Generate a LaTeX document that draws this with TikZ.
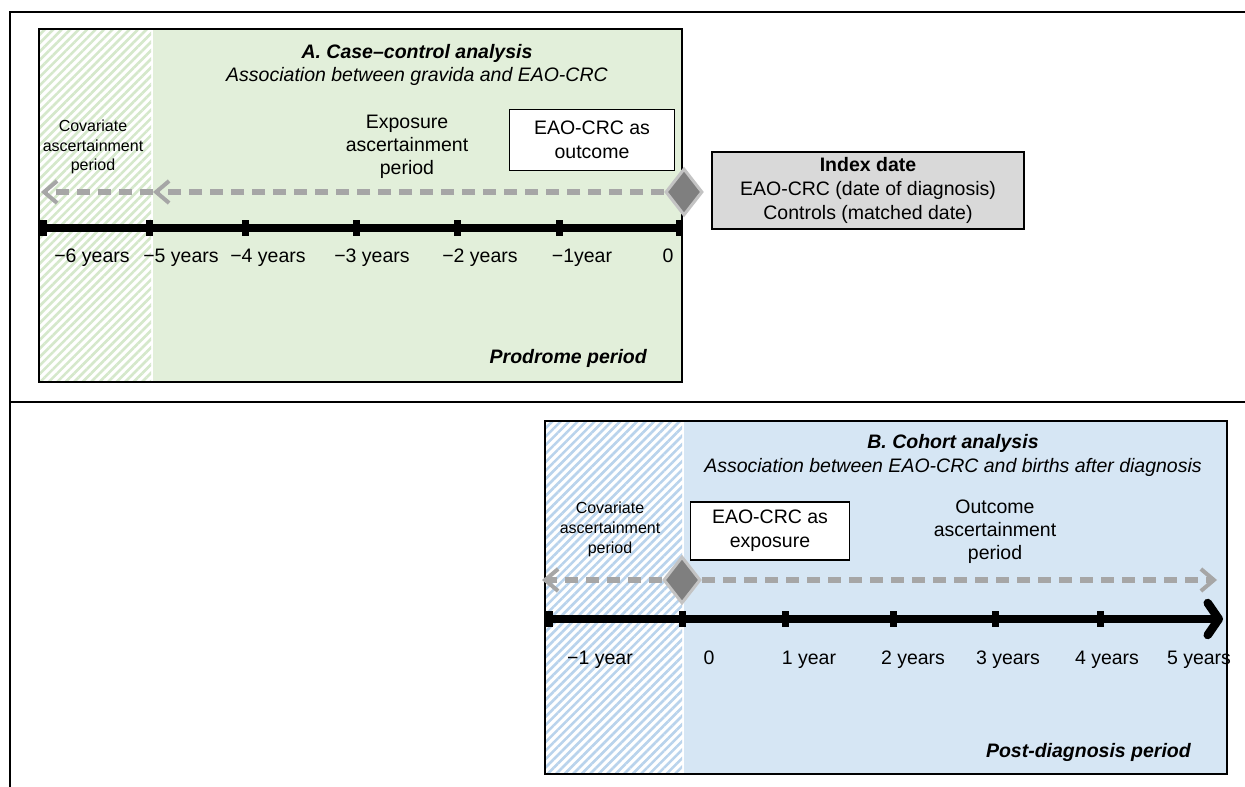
\documentclass[tikz,border=0pt]{standalone}
\usepackage{fontspec}
\setmainfont{Liberation Sans}
\usetikzlibrary{shapes.geometric,arrows.meta,patterns.meta}
\definecolor{agreen}{HTML}{E2EFDA}
\definecolor{ghatch}{HTML}{D5E8CB}
\definecolor{bblue}{HTML}{D6E6F4}
\definecolor{bhatch}{HTML}{B9D3EC}
\definecolor{dashgray}{HTML}{A6A6A6}
\definecolor{dfill}{HTML}{7F7F7F}
\definecolor{dborder}{HTML}{C3C3C3}
\definecolor{igray}{HTML}{D9D9D9}
\tikzset{
  basetext/.style={font=\fontsize{19.5}{24}\selectfont, inner sep=0pt, align=center},
  smalltext/.style={font=\fontsize{16}{19.5}\selectfont, inner sep=0pt, align=center},
  bititle/.style={font=\fontsize{19.5}{24}\selectfont\bfseries\itshape, inner sep=0pt},
  ititle/.style={font=\fontsize{19.5}{24}\selectfont\itshape, inner sep=0pt},
  tickmark/.style={fill=black, minimum width=7pt, minimum height=16pt, inner sep=0pt},
  axisline/.style={line width=8.5pt},
  darrow/.style={line width=6pt, draw=dashgray, dash pattern=on 13pt off 8pt, -{Straight Barb[length=13pt,width=22pt,line width=4pt]}},
  idiamond/.style={diamond, fill=dfill, draw=dborder, line width=3pt, minimum width=37pt, minimum height=47pt, inner sep=0pt},
  wbox/.style={draw, line width=1.3pt, fill=white, inner sep=0pt, font=\fontsize{19.5}{24}\selectfont, align=center},
  hatchA/.style={pattern={Lines[angle=45,distance=6pt,line width=2.6pt]}, pattern color=ghatch},
  hatchB/.style={pattern={Lines[angle=45,distance=6pt,line width=2.6pt]}, pattern color=bhatch}
}
\begin{document}
\begin{tikzpicture}[x=1pt,y=-1pt]
\useasboundingbox (0,0) rectangle (1245,787);
\fill[white] (0,0) rectangle (1245,787);
% outer frame
\draw[line width=2pt] (1245,12) -- (10,12) -- (10,787);
\draw[line width=2pt] (10,402) -- (1245,402);

% ---------- Panel A ----------
\fill[white] (39,29) rectangle (151,382);
\fill[hatchA] (39,29) rectangle (151,382);
\fill[agreen] (153,29) rectangle (682,382);
\draw[line width=1.5pt] (39,29) rectangle (682,382);

\node[bititle, anchor=base] (tA) at (417,58) {A. Case–control analysis};
\node[ititle, anchor=base] (sA) at (417,81) {Association between gravida and EAO-CRC};
\node[smalltext] (covA) at (93,147) {Covariate\\ascertainment\\period};
\node[basetext, font=\fontsize{19.5}{23}\selectfont] (expA) at (407,147) {Exposure\\ascertainment\\period};
\node[wbox, minimum width=165pt, minimum height=61pt] (outA) at (592,140) {EAO-CRC as\\outcome};

% axis A
\coordinate (aL) at (39,228);
\coordinate (aR) at (682,228);
\draw[axisline] (aL) -- (aR);
\node[tickmark] (tA6) at (43,228) {};
\node[tickmark] (tA5) at (149,228) {};
\node[tickmark] (tA4) at (245,228) {};
\node[tickmark] (tA3) at (356,228) {};
\node[tickmark] (tA2) at (457,228) {};
\node[tickmark] (tA1) at (559,228) {};
\node[tickmark] (tA0) at (679,228) {};
\node[basetext, anchor=base] (lA6) at (92,262) {−6 years};
\node[basetext, anchor=base] (lA5) at (181,262) {−5 years};
\node[basetext, anchor=base] (lA4) at (268,262) {−4 years};
\node[basetext, anchor=base] (lA3) at (372,262) {−3 years};
\node[basetext, anchor=base] (lA2) at (480,262) {−2 years};
\node[basetext, anchor=base] (lA1) at (582,262) {−1year};
\node[basetext, anchor=base] (lA0) at (668,262) {0};

% dashed arrows A
\node[idiamond] (dA) at (684,192) {};
\coordinate (cA1) at (153,192);
\coordinate (cA2) at (41,192);
\draw[darrow] (dA.west) -- (cA1);
\draw[darrow] (cA1) -- (cA2);

\node[bititle, anchor=base east] (pA) at (647,363) {Prodrome period};

% index date box
\node[draw, fill=igray, line width=1.3pt, minimum width=312pt, minimum height=77pt, inner sep=0pt,
      font=\fontsize{19.5}{24}\selectfont, align=center] (idx) at (868,190.5)
  {\textbf{Index date}\\EAO-CRC (date of diagnosis)\\Controls (matched date)};

% ---------- Panel B ----------
\fill[white] (545,421) rectangle (682,774);
\fill[hatchB] (545,421) rectangle (682,774);
\fill[bblue] (684,421) rectangle (1227,774);
\draw[line width=1.5pt] (545,421) rectangle (1227,774);

\node[bititle, anchor=base] (tB) at (953,448) {B. Cohort analysis};
\node[ititle, anchor=base] (sB) at (953,472) {Association between EAO-CRC and births after diagnosis};
\node[smalltext, font=\fontsize{16}{20}\selectfont] (covB) at (610,529) {Covariate\\ascertainment\\period};
\node[wbox, minimum width=159pt, minimum height=58pt] (expB) at (770,531) {EAO-CRC as\\exposure};
\node[basetext, font=\fontsize{19.5}{23}\selectfont] (outB) at (995,532) {Outcome\\ascertainment\\period};

% axis B
\coordinate (bL) at (545,619);
\coordinate (bR) at (1223,619);
\draw[axisline, -{Straight Barb[length=11pt,width=32pt,round]}] (bL) -- (bR);
\node[tickmark] (tBm1) at (549,619) {};
\node[tickmark] (tB0) at (682,619) {};
\node[tickmark] (tB1) at (785,619) {};
\node[tickmark] (tB2) at (893,619) {};
\node[tickmark] (tB3) at (995,619) {};
\node[tickmark] (tB4) at (1100,619) {};
\node[basetext, anchor=base] (lBm1) at (600,664) {−1 year};
\node[basetext, anchor=base] (lB0) at (709,664) {0};
\node[basetext, anchor=base] (lB1) at (809,664) {1 year};
\node[basetext, anchor=base] (lB2) at (913,664) {2 years};
\node[basetext, anchor=base] (lB3) at (1008,664) {3 years};
\node[basetext, anchor=base] (lB4) at (1107,664) {4 years};
\node[basetext, anchor=base] (lB5) at (1199,664) {5 years};

% dashed arrows B
\node[idiamond] (dB) at (682,580) {};
\coordinate (cB1) at (542,580);
\coordinate (cB2) at (1217,580);
\draw[darrow] (dB.west) -- (cB1);
\draw[darrow] (dB.east) -- (cB2);

\node[bititle, anchor=base east] (pB) at (1191,757) {Post-diagnosis period};
\end{tikzpicture}
\end{document}
